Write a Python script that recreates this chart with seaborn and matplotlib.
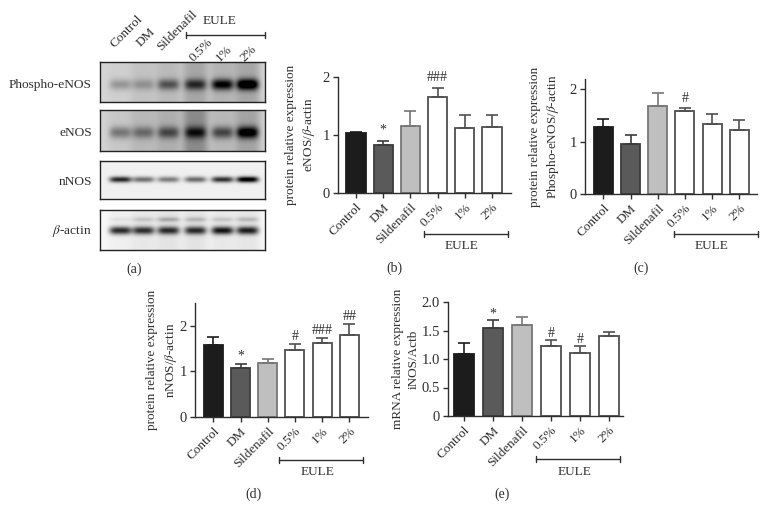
import numpy as np
import pandas as pd
import matplotlib
matplotlib.use('Agg')
import matplotlib.pyplot as plt
import seaborn as sns

W, H = 766, 521
groups = ['Control', 'DM', 'Sildenafil', '0.5%', '1%', '2%']
bar_colors = ['#1c1c1c', '#5a5a5a', '#bfbfbf', '#ffffff', '#ffffff', '#ffffff']
edge_colors = ['#1c1c1c', '#3c3c3c', '#767676', '#4f4f4f', '#4f4f4f', '#4f4f4f']

# bar heights and upper error bars
b_means = [1.03, 0.83, 1.15, 1.66, 1.12, 1.14]
b_errs = [0.02, 0.06, 0.26, 0.15, 0.23, 0.20]
b_marks = ['', '*', '', '###', '', '']
c_means = [1.29, 0.95, 1.68, 1.58, 1.33, 1.22]
c_errs = [0.15, 0.17, 0.26, 0.06, 0.21, 0.19]
c_marks = ['', '', '', '#', '', '']
d_means = [1.58, 1.07, 1.18, 1.48, 1.62, 1.80]
d_errs = [0.17, 0.09, 0.10, 0.12, 0.11, 0.24]
d_marks = ['', '*', '', '#', '###', '##']
e_means = [1.09, 1.54, 1.60, 1.23, 1.11, 1.40]
e_errs = [0.19, 0.14, 0.14, 0.10, 0.12, 0.08]
e_marks = ['', '*', '', '#', '#', '']

# western blot: band darkness and smear per lane
blot_names = ['Phospho-eNOS', 'eNOS', 'nNOS', r'$\beta$-actin']
phospho_bands = [0.22, 0.20, 0.42, 0.52, 0.74, 0.90]
phospho_smear = [0.02, 0.07, 0.10, 0.18, 0.13, 0.18]
enos_bands = [0.32, 0.32, 0.42, 0.52, 0.46, 0.78]
enos_smear = [0.04, 0.10, 0.14, 0.28, 0.10, 0.18]
nnos_bands = [0.80, 0.50, 0.45, 0.52, 0.75, 1.00]
nnos_smear = [0, 0, 0, 0, 0, 0]
actin_bands = [0.78, 0.74, 0.74, 0.74, 0.84, 0.80]
actin_smear = [0.03, 0.06, 0.08, 0.08, 0.06, 0.07]
actin_upper = [0.06, 0.14, 0.24, 0.18, 0.14, 0.18]
no_upper = [0, 0, 0, 0, 0, 0]
lane_centers = [20, 43, 68, 95, 122, 147]

sns.set_theme(style='ticks')
plt.rcParams['font.family'] = ['Liberation Serif', 'DejaVu Serif']
plt.rcParams['mathtext.fontset'] = 'stix'
ink = '#2e2e2e'

fig = plt.figure(figsize=(W / 100, H / 100), dpi=100)


def pixel_axes(left, top, right, bottom):
    return fig.add_axes([left / W, 1 - bottom / H, (right - left) / W, (bottom - top) / H])


def draw_blot(box, bands, smear, upper, band_y, band_h, bg):
    ax = pixel_axes(*box)
    rows = int(box[3] - box[1])
    cols = int(box[2] - box[0])
    yy, xx = np.mgrid[0:rows, 0:cols]
    dark = np.full((rows, cols), bg, dtype=float)
    for c, s, m, u in zip(lane_centers, bands, smear, upper):
        across = np.exp(-((xx - c) / 11.0) ** 4)
        dark += m * np.exp(-((xx - c) / 13.0) ** 4)
        dark += s * across * np.exp(-((yy - band_y) / band_h) ** 2)
        dark += u * across * np.exp(-((yy - band_y + 11) / 2.5) ** 2)
    img = np.clip(1 - dark, 0, 1)
    sns.heatmap(img, cmap='gray', vmin=0, vmax=1, cbar=False, ax=ax,
                xticklabels=False, yticklabels=False, rasterized=True)
    for s in ax.spines.values():
        s.set_visible(True)
        s.set_color('#222222')
        s.set_linewidth(1.0)


def draw_panel(box, x0, step, ymax, yticks, ticklabels, means, errs, marks, label, label_x, mark_pad):
    ax = pixel_axes(*box)
    df = pd.DataFrame({'group': groups, 'value': means})
    sns.barplot(data=df, x='group', y='value', hue='group', order=groups, hue_order=groups,
                palette=bar_colors, dodge=False, legend=False, width=0.7, ax=ax,
                edgecolor=ink, linewidth=1.3)
    for patch, col in zip(ax.patches, edge_colors):
        patch.set_edgecolor(col)
    for i, (m, e) in enumerate(zip(means, errs)):
        ax.errorbar(i, m, yerr=[[0], [e]], color=edge_colors[i], elinewidth=1.2, capsize=4.2,
                    capthick=1.2, zorder=1)
        if marks[i]:
            ax.text(i, m + e + mark_pad, marks[i], ha='center', va='center', fontsize=10, color=ink)
    ax.set_xlim((box[0] - x0) / step, (box[2] - x0) / step)
    ax.set_ylim(0, ymax)
    ax.set_yticks(yticks)
    ax.set_yticklabels(ticklabels, fontsize=10.5, color=ink)
    ax.set_xticks(range(6))
    ax.set_xticklabels(groups, rotation=45, ha='right', rotation_mode='anchor', fontsize=9.5, color=ink)
    ax.tick_params(axis='both', length=3.5, width=1.0, color=ink, pad=2.5)
    ax.set_xlabel('')
    ax.set_ylabel(label, fontsize=9.5, color=ink, linespacing=1.4)
    ax.yaxis.set_label_coords(label_x, 0.5)
    for s in ['top', 'right']:
        ax.spines[s].set_visible(False)
    for s in ['left', 'bottom']:
        ax.spines[s].set_color(ink)
        ax.spines[s].set_linewidth(1.0)
    return ax


draw_blot((100, 62, 265, 102), phospho_bands, phospho_smear, no_upper, 22, 5.5, 0.17)
draw_blot((100, 110, 265, 151), enos_bands, enos_smear, no_upper, 22, 6.0, 0.18)
draw_blot((100, 161, 265, 199), nnos_bands, nnos_smear, no_upper, 18, 3.0, 0.06)
draw_blot((100, 210, 265, 250), actin_bands, actin_smear, actin_upper, 20, 4.0, 0.03)

draw_panel((338, 77, 511, 193), 356, 27.2, 2, [0, 1, 2], ['0', '1', '2'], b_means, b_errs, b_marks,
           'protein relative expression\neNOS/$\\beta$-actin', -0.12, 0.19)
draw_panel((585, 79, 757, 194), 603.3, 27.2, 2.2, [0, 1, 2], ['0', '1', '2'], c_means, c_errs, c_marks,
           'protein relative expression\nPhospho-eNOS/$\\beta$-actin', -0.14, 0.19)
draw_panel((195.3, 303, 368, 417), 213.3, 27.2, 2.5, [0, 1, 2], ['0', '1', '2'], d_means, d_errs, d_marks,
           'protein relative expression\nnNOS/$\\beta$-actin', -0.095, 0.17)
draw_panel((448.3, 302, 623, 416), 464, 29, 2.0, [0, 0.5, 1, 1.5, 2], ['0', '0.5', '1.0', '1.5', '2.0'],
           e_means, e_errs, e_marks, 'mRNA relative expression\niNOS/Actb', -0.165, 0.11)

# everything placed by pixel: captions, brackets, blot labels
over = fig.add_axes([0, 0, 1, 1], facecolor='none')
over.set_xlim(0, W)
over.set_ylim(H, 0)
over.axis('off')


def bracket(x1, x2, y, text_x, text_y):
    over.plot([x1, x2], [y, y], color=ink, lw=1.0)
    over.plot([x1, x1], [y - 3, y + 3], color=ink, lw=1.0)
    over.plot([x2, x2], [y - 3, y + 3], color=ink, lw=1.0)
    over.text(text_x, text_y, 'EULE', ha='center', va='center', fontsize=9.5, color=ink)


bracket(423.7, 507.5, 233.5, 462, 246)
bracket(673.5, 757.5, 233.5, 712, 246)
bracket(278.5, 363, 460, 318, 472)
bracket(535.5, 620, 458.5, 575, 472)
bracket(185.5, 264.5, 34.5, 220, 21)

for txt, x, y in [('(a)', 134, 269), ('(b)', 394, 268), ('(c)', 641, 268), ('(d)', 254, 494), ('(e)', 502, 494)]:
    over.text(x, y, txt, ha='center', va='center', fontsize=10, color=ink)
for name, y in zip(blot_names, [85, 133, 182, 231]):
    over.text(92, y, name, ha='right', va='center', fontsize=9.6, color=ink)
for name, x, y in zip(groups, [137, 149, 191, 207, 226, 251], [13, 26, 8, 36, 43, 43]):
    over.text(x, y, name, rotation=45, ha='right', va='top', rotation_mode='anchor',
              fontsize=9.5, color=ink)

fig.savefig('out.png', dpi=100)
